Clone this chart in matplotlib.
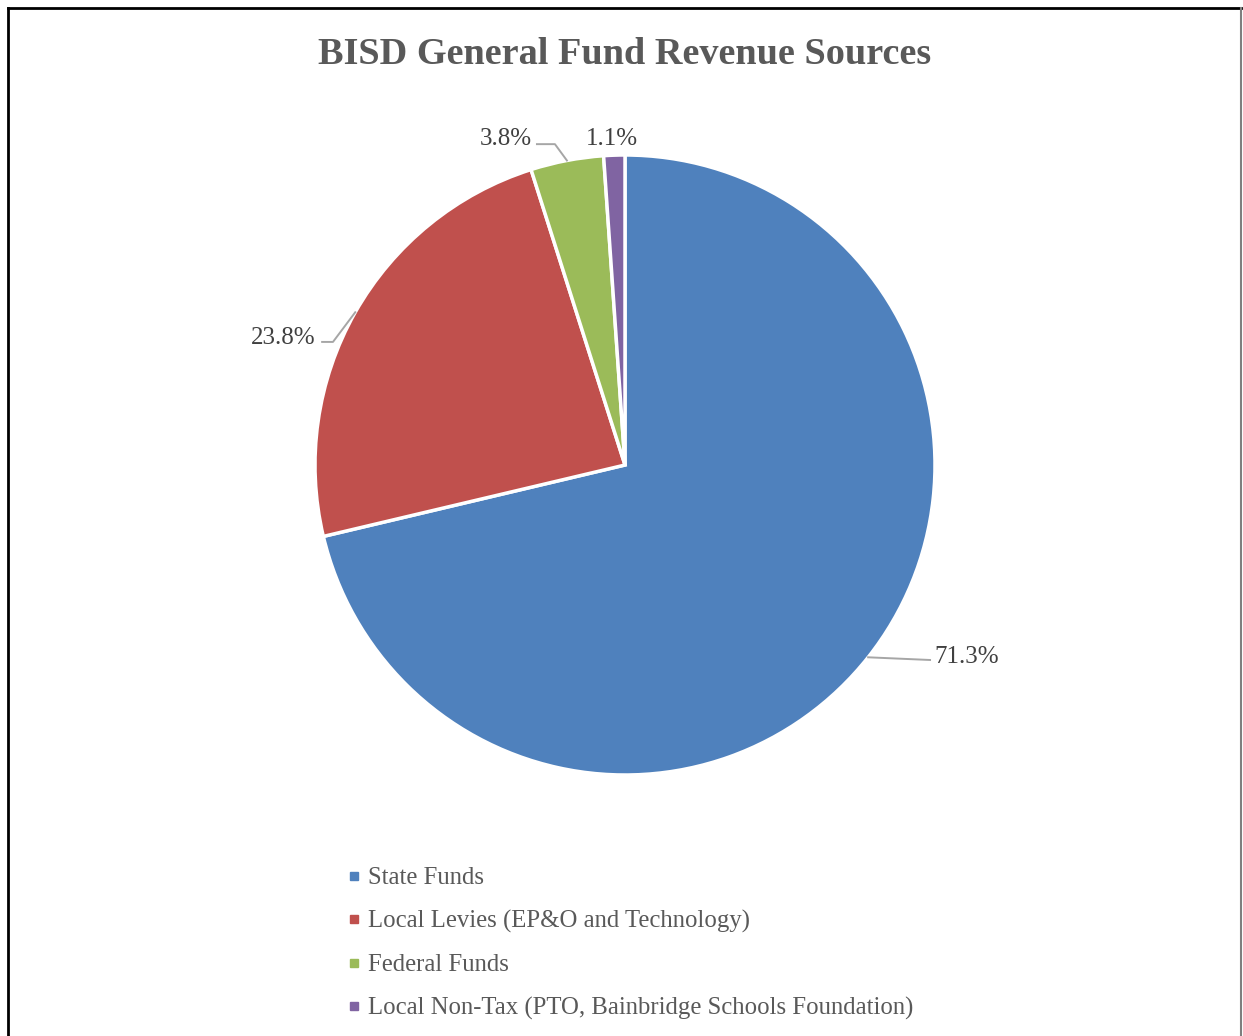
import numpy as np
import matplotlib
matplotlib.use("Agg")
import matplotlib.pyplot as plt
from matplotlib.lines import Line2D

# === DATA ===
categories = [
    "State Funds",
    "Local Levies (EP&O and Technology)",
    "Federal Funds",
    "Local Non-Tax (PTO, Bainbridge Schools Foundation)",
]
shares = [71.3, 23.8, 3.8, 1.1]
colors = ["#4F81BD", "#C0504D", "#9BBB59", "#8064A2"]

# label layout (pie radius units): text centre, leader line points after the edge
label_pos = [(1.103, -0.619), (-1.103, 0.410), (-0.384, 1.053), (-0.042, 1.053)]
leader_pts = [
    [(0.984, -0.629)],
    [(-0.942, 0.397), (-0.977, 0.397)],
    [(-0.226, 1.035), (-0.284, 1.035)],
    None,
]

W, H = 1243, 1036
plt.rcParams["font.family"] = ["Liberation Serif", "DejaVu Serif"]

fig = plt.figure(figsize=(W / 100, H / 100), dpi=100)

# pie axes: center (625, 465) px, radius 310 px
cx, cy, r = 625, 465, 310
ax = fig.add_axes([(cx - r) / W, 1 - (cy + r) / H, 2 * r / W, 2 * r / H])
wedges, _ = ax.pie(shares, colors=colors, startangle=90, counterclock=False,
                   radius=1.0, wedgeprops=dict(edgecolor="white", linewidth=2.5))
ax.set_xlim(-1, 1)
ax.set_ylim(-1, 1)
ax.set_aspect("equal")
ax.axis("off")

for w, val, (lx, ly), pts in zip(wedges, shares, label_pos, leader_pts):
    ax.text(lx, ly, f"{val:.1f}%", ha="center", va="center", fontsize=18,
            color="#404040")
    if pts:
        mid = np.deg2rad((w.theta1 + w.theta2) / 2)
        xs = [np.cos(mid)] + [p[0] for p in pts]
        ys = [np.sin(mid)] + [p[1] for p in pts]
        ax.plot(xs, ys, color="#A6A6A6", lw=1.4, clip_on=False)

fig.text(cx / W, 1 - 55 / H, "BISD General Fund Revenue Sources", ha="center",
         va="center", fontsize=27.5, fontweight="bold", color="#595959")

handles = [Line2D([], [], marker="s", linestyle="none", markersize=5.5,
                  markerfacecolor=c, markeredgecolor=c) for c in colors]
fig.legend(handles, categories, loc="upper left",
           bbox_to_anchor=(347 / W, 1 - 867 / H), frameon=False, fontsize=17.8,
           labelcolor="#595959", handlelength=0.55, handletextpad=0.3,
           labelspacing=0.84, borderpad=0, borderaxespad=0)

# outer frame
fig.add_artist(Line2D([8 / W, 8 / W], [0, 1 - 8 / H], color="black", lw=2,
                      transform=fig.transFigure))
fig.add_artist(Line2D([8 / W, 1241 / W], [1 - 8 / H, 1 - 8 / H], color="black", lw=2,
                      transform=fig.transFigure))
fig.add_artist(Line2D([1241 / W, 1241 / W], [0, 1 - 8 / H], color="#7F7F7F", lw=1.5,
                      transform=fig.transFigure))

fig.savefig("out.png", dpi=100, facecolor="white")
